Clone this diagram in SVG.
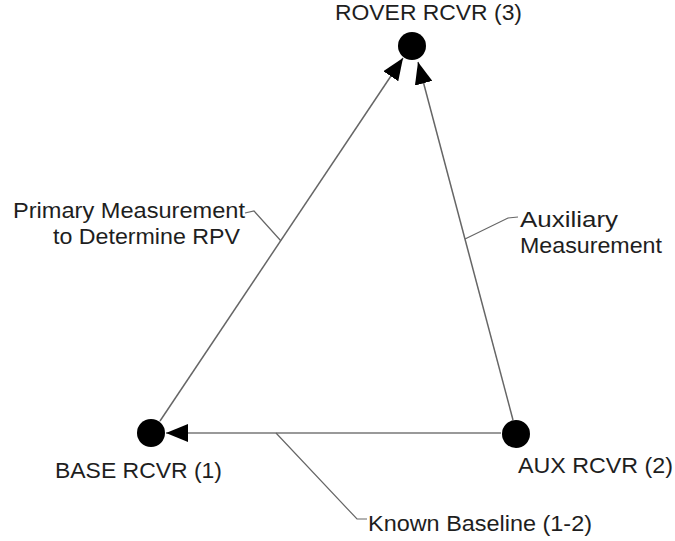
<svg xmlns="http://www.w3.org/2000/svg" width="675" height="541" viewBox="0 0 675 541">
<style>
.lbl{font-family:"Liberation Sans",Arial,sans-serif;font-size:22px;fill:#1e1e1e}
.main{stroke:#666;stroke-width:1.5;fill:none}
.base{stroke:#999;stroke-width:2;fill:none}
.lead{stroke:#666;stroke-width:1.2;fill:none}
.node{fill:#000}
</style>
<defs>
<marker id="ah" markerUnits="userSpaceOnUse" markerWidth="22" markerHeight="18" viewBox="0 -9 22 18" refX="22" refY="0" orient="auto">
<path d="M0,-9 L22,0 L0,9 z" fill="#000"/>
</marker>
</defs>
<rect width="675" height="541" fill="#fff"/>
<g id="connectors">
<line class="main" x1="160" y1="421" x2="403" y2="58" marker-end="url(#ah)"/>
<line class="main" x1="513" y1="420" x2="418" y2="62" marker-end="url(#ah)"/>
<line class="base" x1="501" y1="433" x2="166" y2="433" marker-end="url(#ah)"/>
<polyline class="lead" points="245,213 254,211 281,241"/>
<polyline class="lead" points="465,239 508,218 518,217"/>
<polyline class="lead" points="276,433 357,519 367,519"/>
</g>
<g id="rover">
<circle class="node" cx="412" cy="46" r="14"/>
<text class="lbl" x="335" y="20" textLength="187" lengthAdjust="spacingAndGlyphs">ROVER RCVR (3)</text>
</g>
<g id="base">
<circle class="node" cx="151" cy="433" r="14"/>
<text class="lbl" x="55" y="478" textLength="167" lengthAdjust="spacingAndGlyphs">BASE RCVR (1)</text>
</g>
<g id="aux">
<circle class="node" cx="516" cy="434" r="14"/>
<text class="lbl" x="518" y="473" textLength="155" lengthAdjust="spacingAndGlyphs">AUX RCVR (2)</text>
</g>
<g id="label-primary">
<text class="lbl" x="13" y="218" textLength="232" lengthAdjust="spacingAndGlyphs">Primary Measurement</text>
<text class="lbl" x="53" y="244" textLength="187" lengthAdjust="spacingAndGlyphs">to Determine RPV</text>
</g>
<g id="label-aux">
<text class="lbl" x="520" y="227" textLength="98" lengthAdjust="spacingAndGlyphs">Auxiliary</text>
<text class="lbl" x="520" y="253" textLength="142" lengthAdjust="spacingAndGlyphs">Measurement</text>
</g>
<g id="label-baseline">
<text class="lbl" x="368" y="531" textLength="224" lengthAdjust="spacingAndGlyphs">Known Baseline (1-2)</text>
</g>
</svg>
